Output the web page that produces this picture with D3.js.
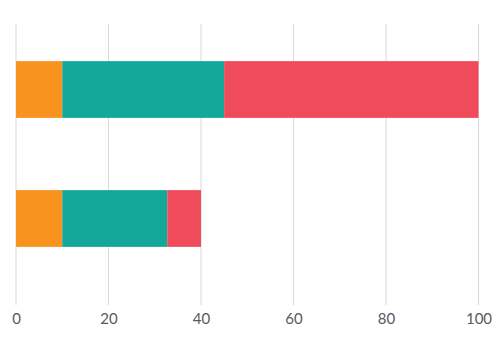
<!DOCTYPE html>
<html>
<head>
<meta charset="utf-8">
<script src="https://cdn.jsdelivr.net/npm/d3@7"></script>
<style>
  body { margin: 0; background: #fff; }
  svg { display: block; font-family: Lato, "Open Sans", sans-serif; }
</style>
</head>
<body>
<svg id="chart"></svg>
<script>
const categories = ["A", "B"];
const seriesKeys = ["s1", "s2", "s3"];
const s1 = [10, 10];
const s2 = [35, 22.7];
const s3 = [55, 7.3];
const xTicks = [0, 20, 40, 60, 80, 100];
const colors = ["#F7931E", "#14A89A", "#EF4B5A"];

const width = 500, height = 355;
const svg = d3.select("#chart").attr("width", width).attr("height", height);

const rows = categories.map((c, i) => ({ cat: c, s1: s1[i], s2: s2[i], s3: s3[i] }));
const stacked = d3.stack().keys(seriesKeys)(rows);

const x = d3.scaleLinear().domain([0, 100]).range([16, 478.5]);
const y = d3.scaleBand()
  .domain(categories)
  .range([25, 283])
  .paddingInner(0.56)
  .paddingOuter(0.28);

// gridlines
svg.append("g")
  .selectAll("line")
  .data(xTicks)
  .join("line")
  .attr("x1", d => x(d))
  .attr("x2", d => x(d))
  .attr("y1", 24)
  .attr("y2", 305)
  .attr("stroke", "#d9d9d9")
  .attr("stroke-width", 1);

// bars
svg.append("g")
  .selectAll("g")
  .data(stacked)
  .join("g")
  .attr("fill", (d, i) => colors[i])
  .selectAll("rect")
  .data(d => d)
  .join("rect")
  .attr("x", d => x(d[0]))
  .attr("y", d => y(d.data.cat))
  .attr("width", d => x(d[1]) - x(d[0]))
  .attr("height", y.bandwidth());

// axis labels
const xAxis = svg.append("g")
  .attr("transform", "translate(0,305)")
  .call(d3.axisBottom(x).tickValues(xTicks).tickSize(0).tickPadding(8));
xAxis.select(".domain").remove();
xAxis.selectAll("text")
  .attr("fill", "#595959")
  .attr("font-size", 15)
  .attr("font-family", "Lato, 'Open Sans', sans-serif");
</script>
</body>
</html>
